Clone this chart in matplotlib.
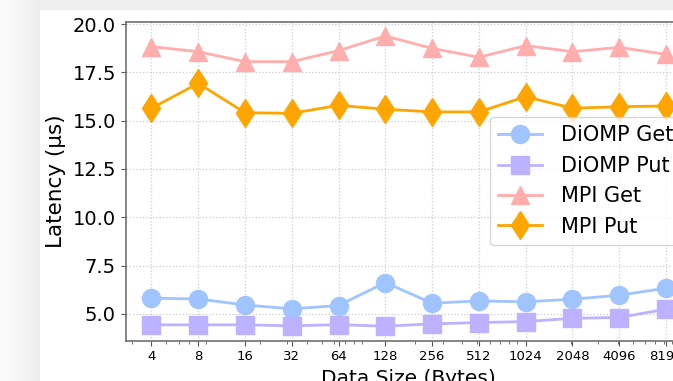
import numpy as np
import matplotlib
matplotlib.use("Agg")
import matplotlib.pyplot as plt
from matplotlib.ticker import NullFormatter

# Message sizes (bytes) and measured latencies (microseconds)
sizes = [4, 8, 16, 32, 64, 128, 256, 512, 1024, 2048, 4096, 8192]
size_labels = [str(s) for s in sizes]

diomp_get = [5.81, 5.77, 5.46, 5.26, 5.43, 6.62, 5.55, 5.67, 5.62, 5.76, 5.96, 6.33]
diomp_put = [4.43, 4.43, 4.43, 4.38, 4.44, 4.36, 4.48, 4.55, 4.60, 4.77, 4.81, 5.24]
mpi_get = [18.83, 18.57, 18.05, 18.05, 18.62, 19.38, 18.74, 18.28, 18.88, 18.57, 18.79, 18.43]
mpi_put = [15.64, 16.93, 15.41, 15.38, 15.79, 15.59, 15.45, 15.45, 16.24, 15.64, 15.72, 15.76]

series_names = ["DiOMP Get", "DiOMP Put", "MPI Get", "MPI Put"]
series_colors = ["#a0c4ff", "#bdb2ff", "#ffadad", "#ffa500"]
series_markers = ["o", "s", "^", "d"]

W, H = 673, 381
fig = plt.figure(figsize=(W / 100, H / 100), dpi=100)
fig.patch.set_facecolor("#f2f2f2")

# page background: grey margin with a soft shadow around a white card
bg = fig.add_axes([0, 0, 1, 1], zorder=-10)
bg.set_axis_off()
img = np.ones((H, W)) * 0.95
xs = np.arange(W)
card_x, card_y = 40, 10
left_shade = 0.975 - 0.055 * np.clip(xs / card_x, 0, 1) ** 2
for x in range(card_x):
    img[:, x] = left_shade[x]
for y in range(card_y):
    img[y, card_x:] = 0.935 + 0.005 * (card_y - y) / card_y
img[card_y:, card_x:] = 1.0
bg.imshow(img, cmap="gray", vmin=0, vmax=1, aspect="auto",
          extent=[0, 1, 0, 1], interpolation="bilinear")
bg.set_xlim(0, 1)
bg.set_ylim(0, 1)

# main axes (extends past the right edge of the canvas)
left = 125.7 / W
bottom = (H - 340.7) / H
top = (H - 21.5) / H
width = 566 / W
ax = fig.add_axes([left, bottom, width, top - bottom])
ax.set_facecolor("white")

data = [diomp_get, diomp_put, mpi_get, mpi_put]
for vals, name, col, mk in zip(data, series_names, series_colors, series_markers):
    ms = 14.5 if mk == "d" else 13
    ax.plot(sizes, vals, marker=mk, color=col, label=name, linewidth=2,
            markersize=ms, markeredgewidth=1, zorder=3)

ax.set_xscale("log")
lo = 2 ** (2 - 0.55)
hi = 2 ** (13 + 0.55)
ax.set_xlim(lo, hi)
ax.set_ylim(3.61, 20.13)
ax.set_xticks(sizes)
ax.set_xticklabels(size_labels, fontsize=9.5)
ax.xaxis.set_minor_formatter(NullFormatter())
ax.set_yticks([5.0, 7.5, 10.0, 12.5, 15.0, 17.5, 20.0])
ax.set_yticklabels(["5.0", "7.5", "10.0", "12.5", "15.0", "17.5", "20.0"], fontsize=14)

ax.grid(True, which="major", linestyle=":", color="#cccccc", linewidth=0.9, zorder=0)
ax.set_axisbelow(True)
for sp in ax.spines.values():
    sp.set_color("#707070")
    sp.set_linewidth(1.2)
ax.tick_params(axis="both", which="both", color="#555555")

ax.set_xlabel("Data Size (Bytes)", fontsize=14.5, labelpad=4)
ax.set_ylabel("Latency (μs)", fontsize=15.5, labelpad=5)

ax.legend(loc="center right", fontsize=15, framealpha=0.8, edgecolor="#cccccc",
          handlelength=2.1, handletextpad=0.9)

fig.savefig("out.png", dpi=100, facecolor=fig.get_facecolor())
